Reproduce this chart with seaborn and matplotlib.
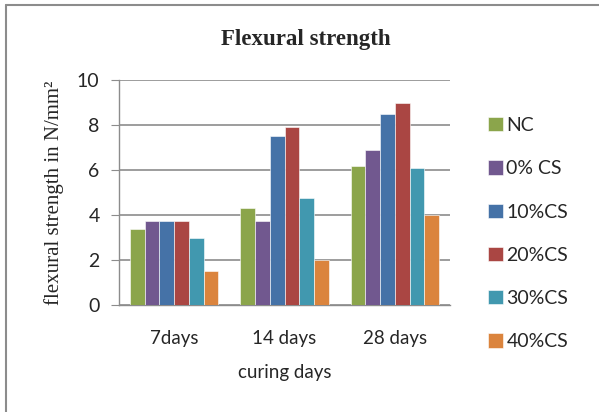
import matplotlib
matplotlib.use("Agg")
import matplotlib.pyplot as plt
import seaborn as sns
import pandas as pd
from matplotlib.patches import Rectangle
from matplotlib.lines import Line2D

categories = ["7days", "14 days", "28 days"]
series = ["NC", "0% CS", "10%CS", "20%CS", "30%CS", "40%CS"]
NC = [3.4, 4.3, 6.2]
CS0 = [3.75, 3.75, 6.9]
CS10 = [3.75, 7.5, 8.5]
CS20 = [3.75, 7.9, 9.0]
CS30 = [3.0, 4.75, 6.1]
CS40 = [1.5, 2.0, 4.0]
values = [NC, CS0, CS10, CS20, CS30, CS40]
colors = ["#8BA54B", "#71588F", "#4572A7", "#AA4643", "#4198AF", "#DB843D"]

rows = []
for s, vals in zip(series, values):
    for c, v in zip(categories, vals):
        rows.append({"days": c, "mix": s, "value": v})
df = pd.DataFrame(rows)

sns.set_style("white")
plt.rcParams["font.family"] = ["Lato", "DejaVu Sans"]

fig = plt.figure(figsize=(5.99, 4.12), dpi=100)
ax = fig.add_axes([119/599, 1-305/412, 331/599, 225/412])

sns.barplot(data=df, x="days", y="value", hue="mix", palette=colors,
            saturation=1, width=0.8, ax=ax, edgecolor="white", linewidth=0.4,
            legend=False, zorder=3)

ax.set_ylim(0, 10)
ax.set_xlim(-0.5, 2.5)
ax.set_yticks([0, 2, 4, 6, 8, 10])
ax.yaxis.grid(True, color="#8c8c8c", linewidth=1.2, zorder=0)
ax.set_axisbelow(True)
for sp in ["top", "right"]:
    ax.spines[sp].set_visible(False)
for sp in ["left", "bottom"]:
    ax.spines[sp].set_color("#8c8c8c")
    ax.spines[sp].set_linewidth(1.0)
ax.tick_params(axis="y", length=6, color="#8c8c8c", direction="out", labelsize=14, pad=8, left=True)
ax.tick_params(axis="x", length=0, labelsize=13.5, pad=18)
ax.set_ylabel("flexural strength in N/mm²", family=["Liberation Serif"], fontsize=15, labelpad=9)
ax.set_xlabel("curing days", fontsize=13.5, labelpad=12)
fig.text(306/599, 1-40/412, "Flexural strength", family=["Liberation Serif"], fontweight="bold",
         fontsize=16.5, ha="center", va="center")

handles = [Rectangle((0, 0), 1, 1, facecolor=c, edgecolor="white", linewidth=0.4) for c in colors]
fig.legend(handles, series, loc="upper left", bbox_to_anchor=(488/599, 1-117/412),
           frameon=False, fontsize=14, handlelength=0.75, handleheight=0.75,
           handletextpad=0.2, labelspacing=1.35, borderaxespad=0, borderpad=0)

fig.add_artist(Line2D([6/599, 6/599], [0, 1-5/412], transform=fig.transFigure, color="#8c8c8c", linewidth=1.5))
fig.add_artist(Line2D([6/599, 1], [1-5/412, 1-5/412], transform=fig.transFigure, color="#8c8c8c", linewidth=1.5))

fig.savefig("out.png", dpi=100)
